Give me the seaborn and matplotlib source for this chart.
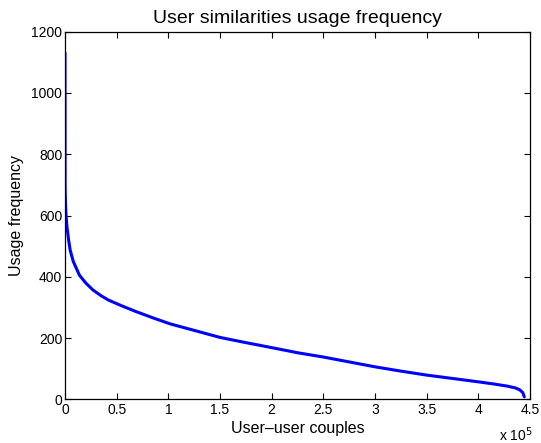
import matplotlib
matplotlib.use("Agg")
import matplotlib.pyplot as plt
import seaborn as sns
import numpy as np
import pandas as pd
from matplotlib.ticker import FuncFormatter

# Data (x in user-user couple rank, y in usage frequency)
couples = [0, 50, 100, 200, 400, 700, 1000, 2000, 3500, 5000, 8000, 14000, 20000,
           27000, 35000, 42000, 55000, 69000, 85000, 102000, 125000, 150000,
           175000, 198000, 225000, 250000, 275000, 300000, 325000, 350000,
           375000, 400000, 415000, 428000, 436000, 440000, 443000, 444500]
frequency = [1131, 900, 700, 677, 650, 620, 600, 560, 520, 487, 450, 405, 380,
             357, 338, 324, 305, 286, 266, 246, 225, 202,
             185, 170, 152, 138, 122, 106, 92, 79,
             68, 57, 50, 43, 37, 31, 22, 8]

title = "User similarities usage frequency"
xlabel = "User\u2013user couples"
ylabel = "Usage frequency"
xticks = [0, 0.5, 1, 1.5, 2, 2.5, 3, 3.5, 4, 4.5]
yticks = [0, 200, 400, 600, 800, 1000, 1200]

sns.set_theme(style="white")
plt.rcParams["font.family"] = ["Liberation Sans", "DejaVu Sans"]
plt.rcParams["xtick.direction"] = "in"
plt.rcParams["ytick.direction"] = "in"

df = pd.DataFrame({"x": couples, "y": frequency})

fig = plt.figure(figsize=(5.41, 4.43), dpi=100)
ax = fig.add_axes([65 / 541, (443 - 399.3) / 443, 465 / 541, (399.3 - 31.7) / 443])

sns.lineplot(data=df, x="x", y="y", ax=ax, color="#0000ff", linewidth=2.2, estimator=None)

ax.set_xlim(0, 4.5e5)
ax.set_ylim(0, 1200)
ax.set_xticks([t * 1e5 for t in xticks])
ax.xaxis.set_major_formatter(FuncFormatter(lambda v, p: f"{v / 1e5:g}"))
ax.set_yticks(yticks)

ax.tick_params(axis="both", which="both", direction="in", length=4, width=0.8,
               top=True, right=True, labelsize=10, colors="black", pad=2,
               bottom=True, left=True)
ax.tick_params(axis="x", pad=3)
for s in ax.spines.values():
    s.set_color("black")
    s.set_linewidth(0.9)
    s.set_visible(True)

ax.set_title(title, fontsize=14, color="black", pad=6)
ax.set_xlabel(xlabel, fontsize=11.5, color="black", labelpad=2.5)
ax.set_ylabel(ylabel, fontsize=11.5, color="black", labelpad=5)

fig.text(499 / 541, 1 - 441 / 443, r"x 10$^5$", fontsize=10, color="black",
         ha="left", va="baseline")

fig.savefig("out.png", dpi=100, facecolor="white")
